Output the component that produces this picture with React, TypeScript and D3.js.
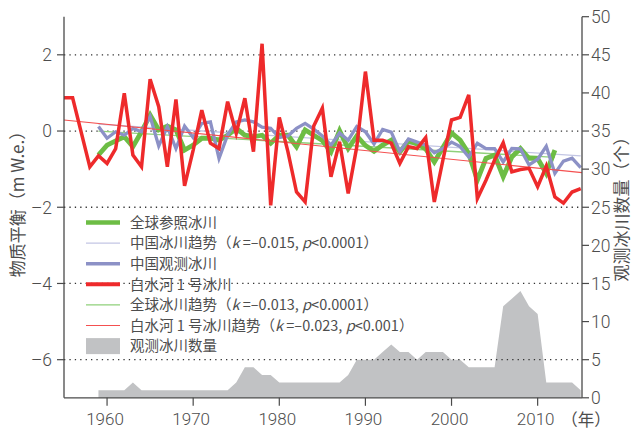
import React from 'react';
import * as d3 from 'd3';

// 白水河1号冰川 (mass balance, m w.e.)
const redYears = [1955, 1956, 1958, 1959, 1960, 1961, 1962, 1963, 1964, 1965, 1966, 1967, 1968, 1969, 1970,
  1971, 1972, 1973, 1974, 1975, 1976, 1977, 1978, 1979, 1980, 1981, 1982, 1983, 1984, 1985,
  1986, 1987, 1988, 1989, 1990, 1991, 1992, 1993, 1994, 1995, 1996, 1997, 1998, 1999, 2000,
  2001, 2002, 2003, 2004, 2005, 2006, 2007, 2008, 2009, 2010, 2011, 2012, 2013, 2014, 2015];
const redValues = [0.87, 0.87, -0.94, -0.65, -0.85, -0.46, 0.99, -0.63, -0.94, 1.36, 0.64, -0.94, 0.83, -1.44, -0.5,
  0.55, -0.32, -0.46, 0.77, -0.06, 0.86, -0.54, 2.29, -1.95, 0.36, -0.54, -1.6, -1.86, 0.13, 0.6,
  -1.2, -0.28, -1.64, -0.41, 1.56, -0.24, -0.24, -0.32, -0.85, -0.41, -0.46, -0.17, -1.86, -0.76, 0.29,
  0.36, 0.95, -1.77, -1.29, -0.76, -0.31, -1.07, -1.01, -0.98, -1.46, -0.92, -1.73, -1.89, -1.6, -1.51];

// 全球参照冰川 1959-2012
const greenStart = 1959;
const greenValues = [-0.63, -0.37, -0.26, -0.15, -0.41, -0.02, 0.42, 0.03, 0.13, 0.03, -0.5,
  -0.37, -0.19, -0.19, -0.24, -0.11, 0.07, -0.11, -0.15, -0.11, -0.32,
  -0.11, -0.11, -0.41, 0.03, -0.11, -0.25, -0.55, 0.01, -0.46, -0.13,
  -0.38, -0.53, -0.37, -0.24, -0.55, -0.26, -0.34, -0.47, -0.81, -0.43,
  -0.05, -0.24, -0.59, -1.29, -0.72, -0.63, -1.2, -0.68, -0.46, -0.72,
  -0.72, -1.11, -0.5];

// 中国观测冰川 1959-2015
const blueStart = 1959;
const blueValues = [0.12, -0.19, -0.02, -0.11, 0.07, -0.02, 0.38, -0.39, 0.11, -0.46, 0.13,
  -0.17, 0.2, 0.24, -0.72, -0.1, 0.24, 0.29, 0.24, 0.1, 0.07,
  -0.17, -0.13, 0.07, 0.2, 0.05, -0.13, -0.37, -0.05, -0.24, 0.12,
  -0.02, -0.34, 0.04, -0.03, -0.54, -0.21, -0.29, -0.37, -0.57, -0.46,
  -0.29, -0.41, -0.68, -0.32, -0.46, -0.46, -0.81, -0.46, -0.47, -0.89,
  -0.74, -0.4, -1.11, -0.79, -0.71, -0.96];

// trend lines: [startYear, startValue, endYear, endValue]
const chinaTrend = [1959, 0.18, 2015, -0.65];
const globalTrend = [1959, 0.0, 2012, -0.69];
const redTrend = [1955, 0.29, 2015.15, -1.09];

// 观测冰川数量 1959-2015
const countStart = 1959;
const countValues = [1, 1, 1, 1, 2, 1, 1, 1, 1, 1, 1, 1, 1, 1, 1, 1, 2, 4, 4, 3, 3,
  2, 2, 2, 2, 2, 2, 2, 2, 3, 5, 5, 5, 6, 7, 6, 6, 5, 6, 6, 6,
  5, 5, 4, 4, 4, 4, 12, 13, 14, 12, 11, 2, 2, 2, 2, 1];

const leftTicks = [2, 0, -2, -4, -6];
const rightTicks = [0, 5, 10, 15, 20, 25, 30, 35, 40, 45, 50];
const xTicks = [1960, 1970, 1980, 1990, 2000, 2010];

const legendLabels = [
  ['全球参照冰川'],
  ['中国冰川趋势（', 'k', ' =–0.015, ', 'p', '<0.0001）'],
  ['中国观测冰川'],
  ['白水河 1 号冰川'],
  ['全球冰川趋势（', 'k', ' =–0.013, ', 'p', '<0.0001）'],
  ['白水河 1 号冰川趋势（', 'k', ' =–0.023, ', 'p', '<0.001）'],
  ['观测冰川数量'],
];

const GREEN = '#6dbd45';
const BLUE = '#8c91c6';
const RED = '#ee2a2b';
const GREEN_T = '#8fd07a';
const BLUE_T = '#c3c6e4';
const RED_T = '#f45050';
const GREY = '#c1c2c4';
const AX = '#4a4a4a';
const TXT = '#4d4d4d';
const NUMFONT = 'Roboto, "Liberation Sans", sans-serif';
const CJK = '"Noto Sans CJK SC", "Noto Sans", sans-serif';

export default function App() {
  const W = 633, H = 431;
  const left = 64, right = 582, top = 16.7, bottom = 397.8;
  const x = d3.scaleLinear().domain([1955, 2015.15]).range([left, right]);
  const yL = d3.scaleLinear().domain([-7, 3]).range([bottom, top]);
  const yR = d3.scaleLinear().domain([0, 50]).range([bottom, top]);
  const line = d3.line<[number, number]>().x(d => x(d[0])).y(d => yL(d[1]));
  const area = d3.area<[number, number]>().x(d => x(d[0])).y0(yR(0)).y1(d => yR(d[1]));

  const red: [number, number][] = redYears.map((yr, i) => [yr, redValues[i]]);
  const green: [number, number][] = greenValues.map((v, i) => [greenStart + i, v]);
  const blue: [number, number][] = blueValues.map((v, i) => [blueStart + i, v]);
  const count: [number, number][] = countValues.map((v, i) => [countStart + i, v]);
  const tr = (t: number[]): [number, number][] => [[t[0], t[1]], [t[2], t[3]]];

  const legX1 = 86, legX2 = 120, legText = 130, legY0 = 222.5, legDy = 20.6;
  const legendKinds = [
    { c: GREEN, w: 4.5 }, { c: BLUE_T, w: 1.2 }, { c: BLUE, w: 3.5 }, { c: RED, w: 4 },
    { c: GREEN_T, w: 1.2 }, { c: RED_T, w: 1.2 }, { c: GREY, w: 0 },
  ];

  return (
    <svg width={W} height={H} style={{ position: 'absolute', left: 0, top: 0, background: '#fff' }}>
      {/* count area */}
      <path d={area(count) || ''} fill={GREY} />
      {/* gridlines */}
      {leftTicks.map(t => (
        <line key={'g' + t} x1={left} x2={right} y1={yL(t)} y2={yL(t)} stroke="#333" strokeWidth={1.3}
          strokeDasharray="1.3 4.1" />
      ))}
      {/* lines */}
      <path d={line(tr(chinaTrend)) || ''} fill="none" stroke={BLUE_T} strokeWidth={1.3} />
      <path d={line(tr(globalTrend)) || ''} fill="none" stroke={GREEN_T} strokeWidth={1.3} />
      <path d={line(green) || ''} fill="none" stroke={GREEN} strokeWidth={4.8} strokeLinejoin="miter" />
      <path d={line(blue) || ''} fill="none" stroke={BLUE} strokeWidth={3.3} strokeLinejoin="miter" />
      <path d={line(tr(redTrend)) || ''} fill="none" stroke={RED_T} strokeWidth={1.2} />
      <path d={line(red) || ''} fill="none" stroke={RED} strokeWidth={3.5} strokeLinejoin="miter" />

      {/* axes */}
      <line x1={left} x2={left} y1={top} y2={bottom} stroke={AX} strokeWidth={1.3} />
      <line x1={right} x2={right} y1={top} y2={bottom} stroke={AX} strokeWidth={1.3} />
      <line x1={left} x2={right} y1={bottom} y2={bottom} stroke={AX} strokeWidth={1.3} />
      {leftTicks.map(t => (
        <g key={'l' + t}>
          <line x1={left - 7} x2={left} y1={yL(t)} y2={yL(t)} stroke={AX} strokeWidth={1.2} />
          <text x={left - 12} y={yL(t)} dy="0.36em" textAnchor="end" fontFamily={NUMFONT} fontWeight={300}
            fontSize={17.5} fill={TXT}>{t < 0 ? '–' + Math.abs(t) : String(t)}</text>
        </g>
      ))}
      {rightTicks.map(t => (
        <g key={'r' + t}>
          <line x1={right} x2={right + 7} y1={yR(t)} y2={yR(t)} stroke={AX} strokeWidth={1.2} />
          <text x={right + 9} y={yR(t)} dy="0.36em" textAnchor="start" fontFamily={NUMFONT} fontWeight={300}
            fontSize={17.5} fill={TXT}>{t}</text>
        </g>
      ))}
      {xTicks.map(t => (
        <g key={'x' + t}>
          <line x1={x(t)} x2={x(t)} y1={bottom} y2={bottom + 8} stroke={AX} strokeWidth={1.2} />
          <text x={x(t) - 2} y={425} textAnchor="middle" fontFamily={NUMFONT} fontWeight={300}
            fontSize={17} fill={TXT}>{t}</text>
        </g>
      ))}
      <text x={586} y={426} textAnchor="middle" fontFamily={CJK} fontSize={16.5} fill={TXT}>（年）</text>

      {/* axis titles */}
      <text transform={`translate(24,${200}) rotate(-90)`} textAnchor="middle" fontFamily={CJK} fontSize={17}
        fill={TXT}>物质平衡（m W.e.）</text>
      <text transform={`translate(628,${205}) rotate(-90)`} textAnchor="middle" fontFamily={CJK} fontSize={17}
        fill={TXT}>观测冰川数量（个）</text>

      {/* legend */}
      {legendLabels.map((parts, i) => {
        const ly = legY0 + i * legDy;
        const k = legendKinds[i];
        return (
          <g key={'leg' + i}>
            {k.w > 0 ? (
              <line x1={legX1} x2={legX2} y1={ly} y2={ly} stroke={k.c} strokeWidth={k.w} />
            ) : (
              <rect x={legX1} y={ly - 8} width={legX2 - legX1} height={16} fill={k.c} />
            )}
            <text x={legText} y={ly} dy="0.36em" fontFamily={CJK} fontSize={14.5} fill={TXT}>
              {parts.map((p, j) => (
                <tspan key={j} fontStyle={p === 'k' || p === 'p' ? 'italic' : 'normal'}>{p}</tspan>
              ))}
            </text>
          </g>
        );
      })}
    </svg>
  );
}
